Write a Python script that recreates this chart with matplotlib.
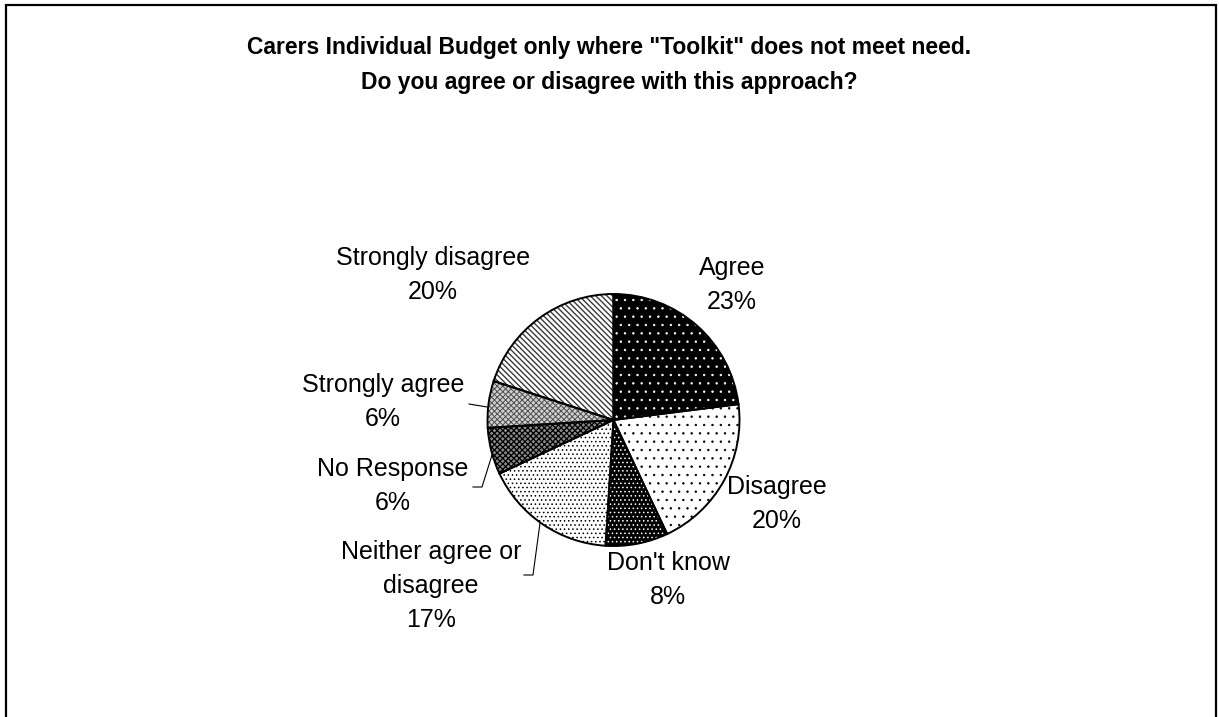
import matplotlib
matplotlib.use("Agg")
import matplotlib.pyplot as plt

plt.rcParams["font.family"] = ["Liberation Sans", "DejaVu Sans"]
plt.rcParams["hatch.linewidth"] = 0.8

# survey responses, clockwise from 12 o'clock
categories = ["Agree", "Disagree", "Don't know", "Neither agree or\ndisagree",
              "No Response", "Strongly agree", "Strongly disagree"]
percent = [23, 20, 8, 17, 6, 6, 20]

# fill, hatch, hatch colour, hatch width per slice (monochrome print style)
faces = ["black", "white", "black", "white", "#8a8a8a", "#d0d0d0", "white"]
hatches = ["..", "..", "....", "....", "xxxxxx", "xxxxxx", "\\" * 6]
hatch_cols = ["white", "black", "white", "black", "black", "#505050", "#3a3a3a"]
hatch_lw = [0.5, 0.5, 0.6, 0.6, 0.9, 0.7, 1.0]

# label centres in pixels (x, y from top)
label_pos = [(732, 285), (777, 504), (668, 580), (431, 586),
             (393, 486), (383, 402), (433, 275)]
# leader lines in pixels
leaders = [
    [(473, 487), (482, 487), (492, 455)],
    [(469, 404), (487, 407)],
    [(524, 575), (533, 575), (540, 523)],
]

W, H = 1219, 717
fig = plt.figure(figsize=(W / 100, H / 100), dpi=100)
ax = fig.add_axes([0, 0, 1, 1])

center = (613.5, H - 420)
radius = 126

wedges, _ = ax.pie(percent, startangle=90, counterclock=False,
                   center=center, radius=radius, frame=True,
                   wedgeprops=dict(linewidth=0))
for w, fc, h, hc, hl in zip(wedges, faces, hatches, hatch_cols, hatch_lw):
    w.set_facecolor(fc)
    w.set_edgecolor(hc)
    w.set_hatch(h)
    w.set_linewidth(0)
    if hasattr(w, "set_hatch_linewidth"):
        w.set_hatch_linewidth(hl)

# black outlines on top
ax.pie(percent, startangle=90, counterclock=False, center=center,
       radius=radius, frame=True,
       wedgeprops=dict(fill=False, edgecolor="black", linewidth=1.4))
ax.set_xlim(0, W)
ax.set_ylim(0, H)
ax.set_aspect("equal")
ax.axis("off")

for name, p, (x, y) in zip(categories, percent, label_pos):
    ax.text(x, H - y, f"{name}\n{p}%", ha="center", va="center",
            fontsize=18, linespacing=1.55)

for pts in leaders:
    ax.plot([p[0] for p in pts], [H - p[1] for p in pts],
            color="black", linewidth=0.8)

fig.text(0.5, 1 - 65 / H,
         'Carers Individual Budget only where "Toolkit" does not meet need.\n'
         "Do you agree or disagree with this approach?",
         ha="center", va="center", fontsize=16.5, fontweight="bold",
         linespacing=1.72)

# chart area border, open at the bottom
ax.plot([6, 6, 1216, 1216], [0, H - 5, H - 5, 0], color="black",
        linewidth=1.6, solid_joinstyle="miter")

fig.savefig("out.png", dpi=100)
